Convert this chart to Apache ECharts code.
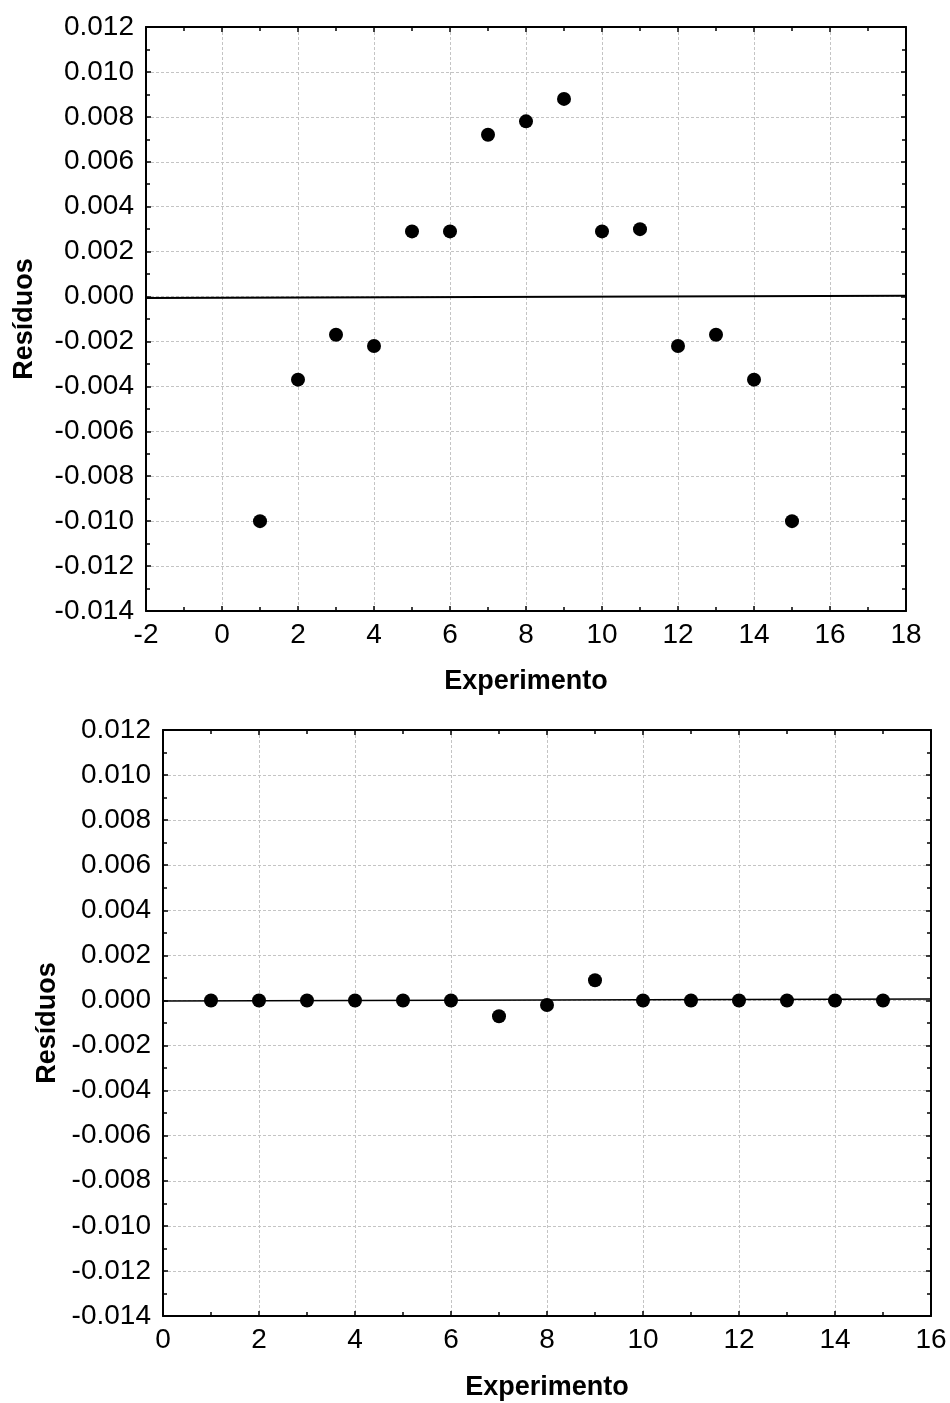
<!DOCTYPE html>
<html>
<head>
<meta charset="utf-8">
<script src="https://cdn.jsdelivr.net/npm/echarts@6/dist/echarts.min.js"></script>
<style>
html,body{margin:0;padding:0;background:#fff;}
#chart{width:950px;height:1403px;}
</style>
</head>
<body>
<div id="chart"></div>
<script>
// Data
const experimento = [1, 2, 3, 4, 5, 6, 7, 8, 9, 10, 11, 12, 13, 14, 15];
const residuosA = [-0.0100, -0.0037, -0.0017, -0.0022, 0.0029, 0.0029, 0.0072, 0.0078, 0.0088, 0.0029, 0.0030, -0.0022, -0.0017, -0.0037, -0.0100];
const residuosB = [0.0000, 0.0000, 0.0000, 0.0000, 0.0000, 0.0000, -0.0007, -0.0002, 0.0009, 0.0000, 0.0000, 0.0000, 0.0000, 0.0000, 0.0000];
const fitLineA_x = [-2, 18];
const fitLineA_y = [-0.00006, 0.00003];
const fitLineB_x = [0, 16];
const fitLineB_y = [-0.00002, 0.00006];
const xRangeA = [-2, 18];
const xRangeB = [0, 16];
const yRange = [-0.014, 0.012];
const xTickStep = 2;
const yTickStep = 0.002;
const xTitle = 'Experimento';
const yTitle = 'Resíduos';

const FONT = '"Liberation Sans", Arial, sans-serif';
const chart = echarts.init(document.getElementById('chart'), null, {renderer: 'canvas'});

function pairs(xs, ys) { return xs.map((x, i) => [x, ys[i]]); }

const gridStyle = {show: true, lineStyle: {color: '#c4c4c4', type: [3, 2], width: 1}};
const axisLineStyle = {show: true, onZero: false, lineStyle: {color: '#000', width: 2}};
const tickStyle = {show: true, inside: true, length: 5, lineStyle: {color: '#000', width: 1.5}};
const minorTickStyle = {show: true, splitNumber: 2, length: 4, lineStyle: {color: '#000', width: 1.5}};

function mainX(gridIndex, range, nameGap) {
  return {
    type: 'value', gridIndex, min: range[0], max: range[1], interval: xTickStep,
    position: 'bottom',
    name: xTitle, nameLocation: 'middle', nameGap,
    nameTextStyle: {fontFamily: FONT, fontSize: 27, fontWeight: 'bold', color: '#000'},
    axisLine: axisLineStyle, axisTick: tickStyle, minorTick: minorTickStyle,
    splitLine: gridStyle,
    axisLabel: {show: true, margin: 10, fontFamily: FONT, fontSize: 28, color: '#000',
      showMinLabel: true, showMaxLabel: true, formatter: v => String(v)}
  };
}
function topX(gridIndex, range) {
  return {
    type: 'value', gridIndex, min: range[0], max: range[1], interval: xTickStep,
    position: 'top',
    axisLine: axisLineStyle, axisTick: tickStyle, minorTick: minorTickStyle,
    splitLine: {show: false}, axisLabel: {show: false}
  };
}
function mainY(gridIndex, nameGap) {
  return {
    type: 'value', gridIndex, min: yRange[0], max: yRange[1], interval: yTickStep,
    position: 'left',
    name: yTitle, nameLocation: 'middle', nameGap, nameRotate: 90,
    nameTextStyle: {fontFamily: FONT, fontSize: 27, fontWeight: 'bold', color: '#000'},
    axisLine: axisLineStyle, axisTick: tickStyle, minorTick: minorTickStyle,
    splitLine: gridStyle,
    axisLabel: {show: true, margin: 12, fontFamily: FONT, fontSize: 28, color: '#000',
      showMinLabel: true, showMaxLabel: true, formatter: v => v.toFixed(3)}
  };
}
function rightY(gridIndex) {
  return {
    type: 'value', gridIndex, min: yRange[0], max: yRange[1], interval: yTickStep,
    position: 'right',
    axisLine: axisLineStyle, axisTick: tickStyle, minorTick: minorTickStyle,
    splitLine: {show: false}, axisLabel: {show: false}
  };
}

const option = {
  backgroundColor: '#fff',
  animation: false,
  grid: [
    {left: 146, top: 27, width: 760, height: 584},
    {left: 163, top: 730, width: 768, height: 586}
  ],
  xAxis: [mainX(0, xRangeA, 57), topX(0, xRangeA), mainX(1, xRangeB, 58), topX(1, xRangeB)],
  yAxis: [mainY(0, 108), rightY(0), mainY(1, 100), rightY(1)],
  series: [
    {type: 'line', xAxisIndex: 0, yAxisIndex: 0, data: pairs(fitLineA_x, fitLineA_y),
      symbol: 'none', lineStyle: {color: '#000', width: 2}, z: 2},
    {type: 'scatter', xAxisIndex: 0, yAxisIndex: 0, data: pairs(experimento, residuosA),
      symbol: 'circle', symbolSize: 14, itemStyle: {color: '#000', opacity: 1}, z: 3},
    {type: 'line', xAxisIndex: 2, yAxisIndex: 2, data: pairs(fitLineB_x, fitLineB_y),
      symbol: 'none', lineStyle: {color: '#000', width: 1.5}, z: 2},
    {type: 'scatter', xAxisIndex: 2, yAxisIndex: 2, data: pairs(experimento, residuosB),
      symbol: 'circle', symbolSize: 14, itemStyle: {color: '#000', opacity: 1}, z: 3}
  ]
};
chart.setOption(option);
</script>
</body>
</html>
